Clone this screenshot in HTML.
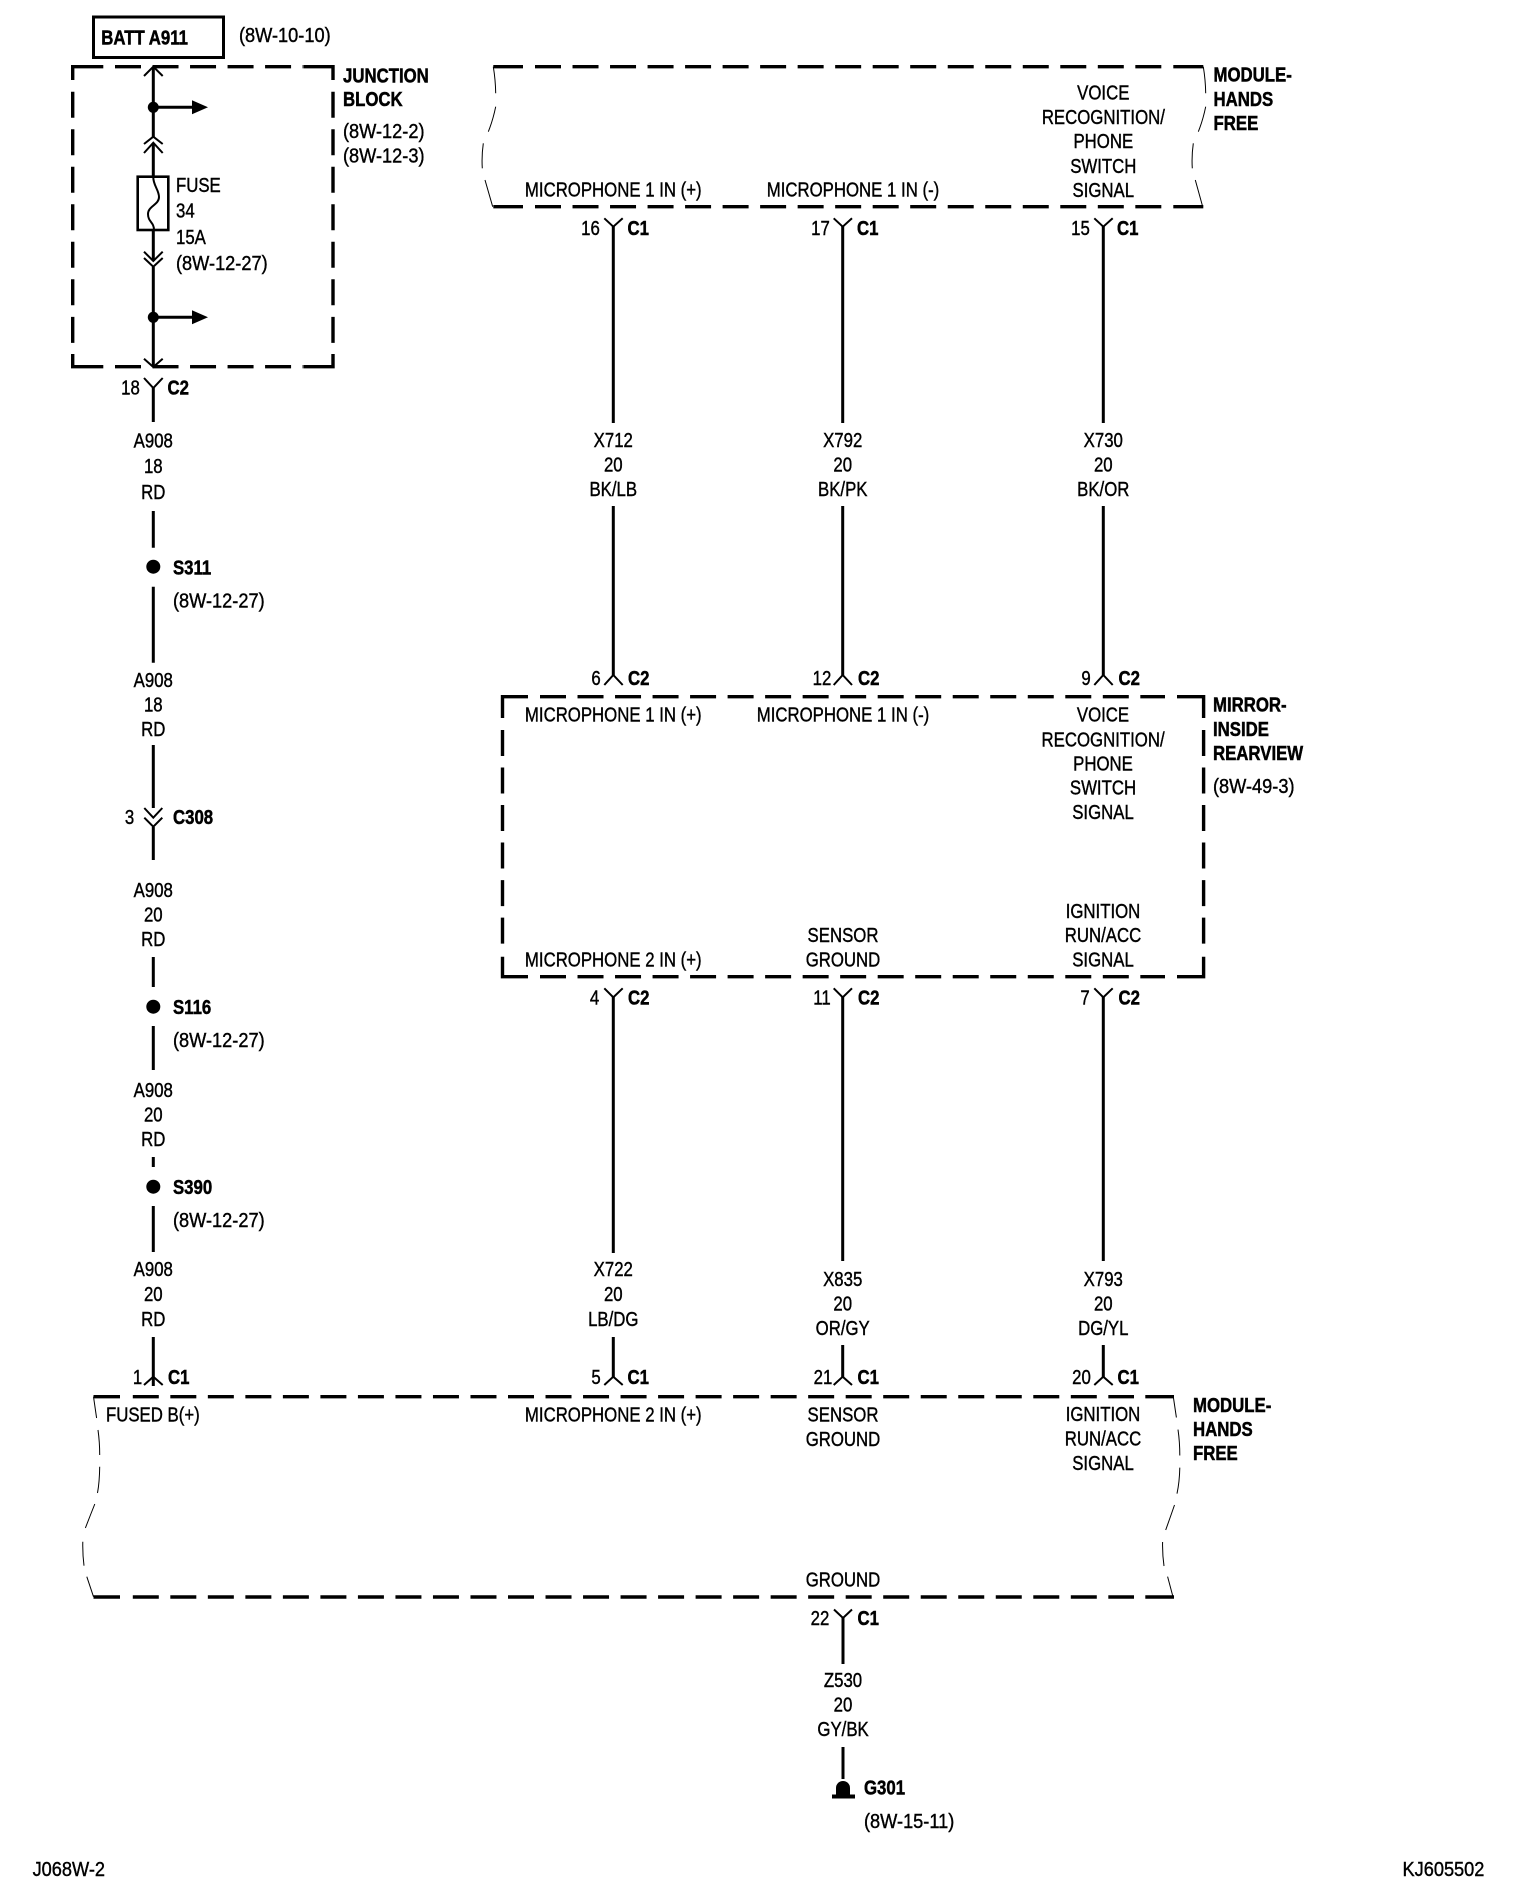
<!DOCTYPE html>
<html>
<head>
<meta charset="utf-8">
<style>
html,body{margin:0;padding:0;background:#fff}
svg{display:block}
text{font-family:"Liberation Sans",sans-serif;font-size:20px;fill:#000;stroke:#000;stroke-width:.4px;transform-box:fill-box;transform-origin:50% 50%;transform:scaleX(.84);text-anchor:middle}
text.l{text-anchor:start;transform-origin:0 50%}
text.b{font-weight:bold;stroke-width:.5px;transform:scaleX(.84)}
text.n{transform:scaleX(.91)}
.w{stroke:#000;stroke-width:3;fill:none}
.c{stroke:#000;stroke-width:2;fill:none}
.d{stroke:#000;stroke-width:3.4;fill:none;stroke-dasharray:26 11.52}
.k{stroke:#000;stroke-width:3.4;fill:none}
.s{stroke:#000;stroke-width:1;fill:none}
</style>
</head>
<body>
<svg width="1520" height="1894" viewBox="0 0 1520 1894" xmlns="http://www.w3.org/2000/svg">
<rect x="0" y="0" width="1520" height="1894" fill="#fff"/>

<!-- BATT -->
<rect x="93.5" y="17" width="130" height="40.5" fill="none" stroke="#000" stroke-width="3"/>
<text class="l b" x="101.2" y="44.5">BATT A911</text>
<text class="l n" x="239" y="42">(8W-10-10)</text>

<!-- Junction block -->
<path class="k" d="M72.7 80V66.7H103.3M303.3 66.7H333V80M72.7 354V366.7H103.3M303.3 366.7H333V354"/>
<path class="d" d="M115 66.7H303M115 366.7H303M72.7 91.7V354M333 91.7V354"/>
<text class="l b" x="343" y="82.7">JUNCTION</text>
<text class="l b" x="343" y="106">BLOCK</text>
<text class="l n" x="343" y="138">(8W-12-2)</text>
<text class="l n" x="343" y="162.7">(8W-12-3)</text>

<!-- Junction internals -->
<path class="w" d="M153.3 67V137M153.3 143V177M153.3 230V261M153.3 267V367"/>
<path class="c" d="M144 76L153.3 66.7L162.7 76M144 144L153.3 136.7L162.7 144M144 153L153.3 142.7L162.7 153M144 251.7L153.3 261L162.7 251.7M144 258L153.3 266.7L162.7 258M144 358.7L153.3 367L162.7 358.7"/>
<circle cx="153.3" cy="107.3" r="5.5"/>
<circle cx="153.3" cy="317.3" r="5.5"/>
<path class="w" d="M153 107.3H194M153 317.3H194"/>
<path d="M192 100.3L208 107.3L192 114.3ZM192 310.3L208 317.3L192 324.3Z"/>
<rect x="137.7" y="176.7" width="30.6" height="53.3" fill="none" stroke="#000" stroke-width="2.6"/>
<path class="c" d="M153.3 177C153 185 159 190 159 197C159 205 148 206 148 214C148 222 154 222 154 230"/>
<text class="l" x="176" y="192">FUSE</text>
<text class="l" x="176" y="217.5">34</text>
<text class="l" x="176" y="244">15A</text>
<text class="l n" x="176" y="270">(8W-12-27)</text>

<!-- Left column -->
<path class="c" d="M144 378L153.3 388L162.7 378"/>
<text x="130.5" y="394.5">18</text>
<text class="l b" x="167.5" y="394.5">C2</text>
<path class="w" d="M153.3 388V422M153.3 511V547.7M153.3 586.7V662.7M153.3 745V808M153.3 827V860M153.3 957V987M153.3 1026V1070M153.3 1157V1167M153.3 1206V1252M153.3 1337V1386"/>
<text x="153.3" y="447.5">A908</text><text x="153.3" y="473">18</text><text x="153.3" y="499">RD</text>
<circle cx="153.3" cy="566.7" r="7"/>
<text class="l b" x="173" y="574.3">S311</text>
<text class="l n" x="173" y="607.5">(8W-12-27)</text>
<text x="153.3" y="687">A908</text><text x="153.3" y="711.7">18</text><text x="153.3" y="736">RD</text>
<path class="c" d="M144.3 808L153.3 817.7L162.3 808M144.3 817.7L153.3 826.7L162.3 817.7"/>
<text x="129.5" y="824">3</text>
<text class="l b" x="173" y="824">C308</text>
<text x="153.3" y="897">A908</text><text x="153.3" y="921.6">20</text><text x="153.3" y="946">RD</text>
<circle cx="153.3" cy="1006.7" r="7"/>
<text class="l b" x="173" y="1014">S116</text>
<text class="l n" x="173" y="1047">(8W-12-27)</text>
<text x="153.3" y="1097">A908</text><text x="153.3" y="1121.6">20</text><text x="153.3" y="1146">RD</text>
<circle cx="153.3" cy="1186.7" r="7"/>
<text class="l b" x="173" y="1194">S390</text>
<text class="l n" x="173" y="1227">(8W-12-27)</text>
<text x="153.3" y="1276">A908</text><text x="153.3" y="1301">20</text><text x="153.3" y="1326">RD</text>
<path class="c" d="M144 1385L153.3 1376.7L162.7 1385"/>
<text x="137.5" y="1384">1</text>
<text class="l b" x="168" y="1384">C1</text>

<!-- Top module -->
<path class="k" d="M493.3 66.7H523M493.3 206.7H523M1173.3 66.7H1203.3M1173.3 206.7H1203.3"/>
<path class="d" d="M535 66.7H1170M535 206.7H1170"/>
<path class="s" d="M493.3 66.7Q495.5 80 495.7 93.3M495.7 106.7Q493 120 488.3 131.7M483.3 143.3Q481.5 156 482.3 168.3M485 180L492.7 206.7M1203.3 66.7Q1205.5 80 1205.7 93.3M1205.7 106.7Q1203 120 1198.3 131.7M1193.3 143.3Q1191.5 156 1192.3 168.3M1195.3 180L1202.7 206.7"/>
<text x="613.3" y="196.5">MICROPHONE 1 IN (+)</text>
<text x="853" y="196.5">MICROPHONE 1 IN (-)</text>
<text x="1103.3" y="99.6">VOICE</text>
<text x="1103.3" y="124">RECOGNITION/</text>
<text x="1103.3" y="148">PHONE</text>
<text x="1103.3" y="173">SWITCH</text>
<text x="1103.3" y="197">SIGNAL</text>
<text class="l b" x="1213.5" y="81.7">MODULE-</text>
<text class="l b" x="1213.5" y="106">HANDS</text>
<text class="l b" x="1213.5" y="130">FREE</text>

<!-- Top connectors -->
<path class="c" d="M604.3 218.3L613.3 226.7L622.7 218.3M833.7 218.3L842.7 226.7L852 218.3M1094.3 218.3L1103.3 226.7L1112.7 218.3"/>
<text x="590.5" y="235">16</text><text class="l b" x="627.5" y="235">C1</text>
<text x="820.5" y="235">17</text><text class="l b" x="857" y="235">C1</text>
<text x="1080.5" y="235">15</text><text class="l b" x="1117" y="235">C1</text>

<!-- Upper wires -->
<path class="w" d="M613.3 226V423M613.3 506V675M842.7 226V423M842.7 506V675M1103.3 226V423M1103.3 506V675"/>
<text x="613.3" y="447">X712</text><text x="613.3" y="471.5">20</text><text x="613.3" y="496">BK/LB</text>
<text x="842.7" y="447">X792</text><text x="842.7" y="471.5">20</text><text x="842.7" y="496">BK/PK</text>
<text x="1103.3" y="447">X730</text><text x="1103.3" y="471.5">20</text><text x="1103.3" y="496">BK/OR</text>
<path class="c" d="M604.3 685L613.3 675L622.7 685M833.7 685L842.7 675L852 685M1094.3 685L1103.3 675L1112.7 685"/>
<text x="596" y="685">6</text><text class="l b" x="628" y="685">C2</text>
<text x="822" y="685">12</text><text class="l b" x="858" y="685">C2</text>
<text x="1086" y="685">9</text><text class="l b" x="1118.5" y="685">C2</text>

<!-- Mirror box -->
<path class="k" d="M502.5 718V696.7H528M1177 696.7H1203.6V718M502.5 956.7V976.7H528M1177 976.7H1203.6V956.7"/>
<path class="d" d="M540 696.7H1165M540 976.7H1165M502.5 730V945M1203.6 730V945"/>
<text x="613.3" y="721.5">MICROPHONE 1 IN (+)</text>
<text x="843" y="721.5">MICROPHONE 1 IN (-)</text>
<text x="1103" y="721.5">VOICE</text>
<text x="1103" y="746.5">RECOGNITION/</text>
<text x="1103" y="770.5">PHONE</text>
<text x="1103" y="794.5">SWITCH</text>
<text x="1103" y="819">SIGNAL</text>
<text x="613.3" y="966.5">MICROPHONE 2 IN (+)</text>
<text x="843" y="942">SENSOR</text>
<text x="843" y="966.5">GROUND</text>
<text x="1103" y="918">IGNITION</text>
<text x="1103" y="942">RUN/ACC</text>
<text x="1103" y="966.5">SIGNAL</text>
<text class="l b" x="1213" y="711.7">MIRROR-</text>
<text class="l b" x="1213" y="736">INSIDE</text>
<text class="l b" x="1213" y="760">REARVIEW</text>
<text class="l n" x="1213" y="793">(8W-49-3)</text>

<!-- Lower connectors -->
<path class="c" d="M604.3 988.3L613.3 997.3L622.7 988.3M833.7 988.3L842.7 997.3L852 988.3M1094.3 988.3L1103.3 997.3L1112.7 988.3"/>
<text x="594.5" y="1004.3">4</text><text class="l b" x="628" y="1004.3">C2</text>
<text x="822" y="1004.3">11</text><text class="l b" x="858" y="1004.3">C2</text>
<text x="1085" y="1004.3">7</text><text class="l b" x="1118.5" y="1004.3">C2</text>

<!-- Lower wires -->
<path class="w" d="M613.3 997V1253M613.3 1337V1377M842.7 997V1261M842.7 1345V1377M1103.3 997V1261M1103.3 1345V1377"/>
<text x="613.3" y="1276">X722</text><text x="613.3" y="1301">20</text><text x="613.3" y="1326">LB/DG</text>
<text x="842.7" y="1286">X835</text><text x="842.7" y="1310.5">20</text><text x="842.7" y="1335">OR/GY</text>
<text x="1103.3" y="1286">X793</text><text x="1103.3" y="1310.5">20</text><text x="1103.3" y="1335">DG/YL</text>
<path class="c" d="M604.3 1385L613.3 1376.7L622.7 1385M833.7 1385L842.7 1376.7L852 1385M1094.3 1385L1103.3 1376.7L1112.7 1385"/>
<text x="596" y="1384">5</text><text class="l b" x="627.5" y="1384">C1</text>
<text x="823" y="1384">21</text><text class="l b" x="857.5" y="1384">C1</text>
<text x="1081.5" y="1384">20</text><text class="l b" x="1117.5" y="1384">C1</text>

<!-- Bottom module -->
<path class="k" d="M93.5 1396.7H120M93.5 1597H120M1145.3 1396.7H1174M1145.3 1597H1174"/>
<path class="d" d="M132.8 1396.7H1134M132.8 1597H1134"/>
<path class="s" d="M93.5 1396.7L96.6 1418M98 1430Q99.7 1442 99.7 1455M99.7 1466.7Q99.5 1482 97.5 1493M94.8 1504Q90 1516 85.4 1528M82.8 1541.7Q82.5 1554 84 1565.7M86.8 1576.7L93.5 1596.7M1173.3 1396.7L1176.4 1417.5M1178 1429.6Q1179.8 1442 1179.8 1455.5M1179.8 1467.6Q1179.5 1482 1177 1493.6M1174.5 1505Q1170 1518 1165.7 1530M1162.6 1542Q1162.3 1554 1164 1566M1167.6 1576.6L1173.3 1598"/>
<text class="l" x="106" y="1421.5">FUSED B(+)</text>
<text x="613.3" y="1421.5">MICROPHONE 2 IN (+)</text>
<text x="843" y="1421.5">SENSOR</text>
<text x="843" y="1446">GROUND</text>
<text x="1103" y="1421">IGNITION</text>
<text x="1103" y="1445.5">RUN/ACC</text>
<text x="1103" y="1470">SIGNAL</text>
<text x="843" y="1586.5">GROUND</text>
<text class="l b" x="1193" y="1412">MODULE-</text>
<text class="l b" x="1193" y="1436">HANDS</text>
<text class="l b" x="1193" y="1460">FREE</text>

<!-- Ground -->
<path class="c" d="M834 1609.5L843 1618L852 1609.5"/>
<text x="820" y="1625">22</text><text class="l b" x="857.5" y="1625">C1</text>
<path class="w" d="M843 1618V1664M843 1747V1779"/>
<text x="843" y="1687">Z530</text><text x="843" y="1711.5">20</text><text x="843" y="1736">GY/BK</text>
<path d="M836 1795V1788A7 7 0 0 1 850 1788V1795Z"/>
<rect x="832" y="1794.5" width="23" height="4"/>
<text class="l b" x="864" y="1794.5">G301</text>
<text class="l n" x="864" y="1828">(8W-15-11)</text>

<!-- Footer -->
<text class="l n" x="32.6" y="1876">J068W-2</text>
<text class="l n" x="1402.5" y="1876">KJ605502</text>
</svg>
</body>
</html>
